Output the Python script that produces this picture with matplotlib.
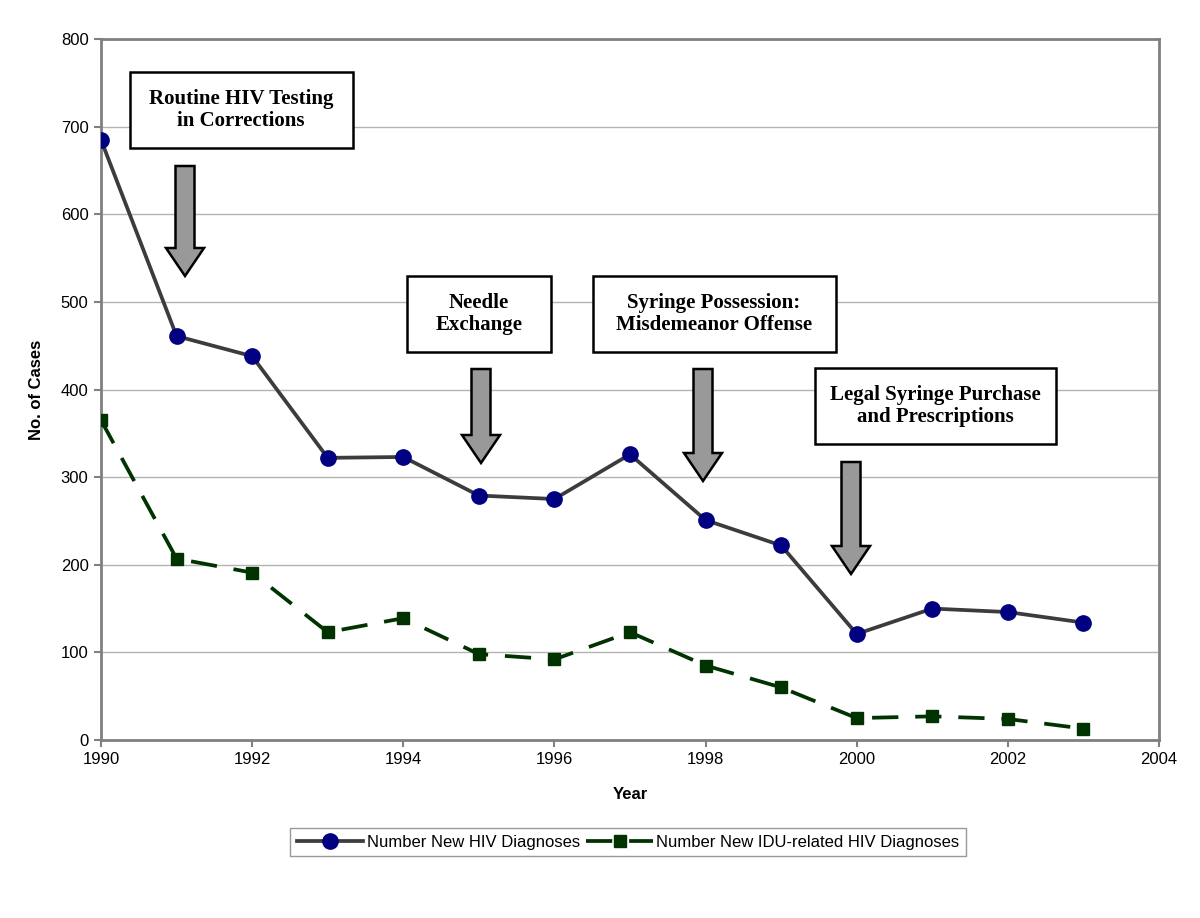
import matplotlib
matplotlib.use('Agg')
import matplotlib.pyplot as plt
from matplotlib.patches import Polygon

# データ
years = [1990, 1991, 1992, 1993, 1994, 1995, 1996, 1997, 1998, 1999, 2000, 2001, 2002, 2003]
hiv_new = [685, 461, 438, 322, 323, 279, 275, 326, 251, 222, 121, 150, 146, 134]
idu_new = [365, 207, 191, 123, 139, 98, 92, 123, 85, 60, 25, 27, 24, 13]

x_ticks = [1990, 1992, 1994, 1996, 1998, 2000, 2002, 2004]
y_ticks = [0, 100, 200, 300, 400, 500, 600, 700, 800]

# 注釈 (テキスト, ボックス中心x, y, 幅, 矢印中心x, 上端y, 先端y) -- ピクセル位置
notes = [
    ('Routine HIV Testing\nin Corrections', 241, 110, 223, 185, 166, 276),
    ('Needle\nExchange', 479, 314, 144, 481, 369, 463),
    ('Syringe Possession:\nMisdemeanor Offense', 714, 314, 243, 703, 369, 481),
    ('Legal Syringe Purchase\nand Prescriptions', 935, 406, 241, 851, 462, 574),
]

plt.rcParams['font.family'] = ['Liberation Sans', 'DejaVu Sans']

fig = plt.figure(figsize=(12, 9.18), dpi=100)
L, R, T, B = 101, 1159, 39, 740
W, H = 1200, 918
ax = fig.add_axes([L / W, 1 - B / H, (R - L) / W, (B - T) / H])

ax.plot(years, hiv_new, color='#3c3c3c', lw=2.7, marker='o', ms=11,
        mfc='#000080', mec='#000080', label='Number New HIV Diagnoses', zorder=4)
ax.plot(years, idu_new, color='#003300', lw=2.7, marker='s', ms=8,
        mfc='#003300', mec='#003300', dashes=(7, 4.5),
        label='Number New IDU-related HIV Diagnoses', zorder=4)

ax.set_xlim(1990, 2004)
ax.set_ylim(0, 800)
ax.set_xticks(x_ticks)
ax.set_yticks(y_ticks)
ax.tick_params(direction='out', length=5, width=1.5, color='#808080',
               labelsize=12, pad=4)
ax.grid(axis='y', color='#b4b4b4', lw=1)
ax.set_axisbelow(True)
for s in ax.spines.values():
    s.set_color('#808080')
    s.set_linewidth(2)

ax.set_xlabel('Year', fontsize=12, fontweight='bold', labelpad=14)
ax.set_ylabel('No. of Cases', fontsize=12, fontweight='bold', labelpad=12)

def px(x, y):
    return ((x - L) / (R - L), (B - y) / (B - T))

for txt, bx, by, bw, axc, ytop, ytip in notes:
    cx, cy = px(bx, by)
    ax.text(cx, cy, txt, transform=ax.transAxes, ha='center', va='center',
            fontsize=15, fontweight='bold', family='Liberation Serif',
            linespacing=1.15, zorder=6)
    # ボックス
    w2 = bw / 2
    x0, y0 = px(bx - w2, by + 38)
    x1, y1 = px(bx + w2, by - 38)
    ax.add_patch(Polygon([(x0, y0), (x1, y0), (x1, y1), (x0, y1)], closed=True,
                         transform=ax.transAxes, fc='white', ec='black', lw=1.8, zorder=5))
    # 矢印
    sw, hw = 9.5, 19
    hs = ytip - 28
    pts = [(axc - sw, ytop), (axc + sw, ytop), (axc + sw, hs), (axc + hw, hs),
           (axc, ytip), (axc - hw, hs), (axc - sw, hs)]
    ax.add_patch(Polygon([px(a, b) for a, b in pts], closed=True, transform=ax.transAxes,
                         fc='#999999', ec='black', lw=1.8, zorder=5))

leg = fig.legend(loc='center', bbox_to_anchor=(628 / W, 1 - 842 / H), ncol=2,
                 frameon=True, fancybox=False, fontsize=12, handlelength=4,
                 columnspacing=0.4, handletextpad=0.2, borderpad=0.4,
                 edgecolor='#808080')
leg.get_frame().set_linewidth(1)

fig.savefig('out.png', dpi=100)
